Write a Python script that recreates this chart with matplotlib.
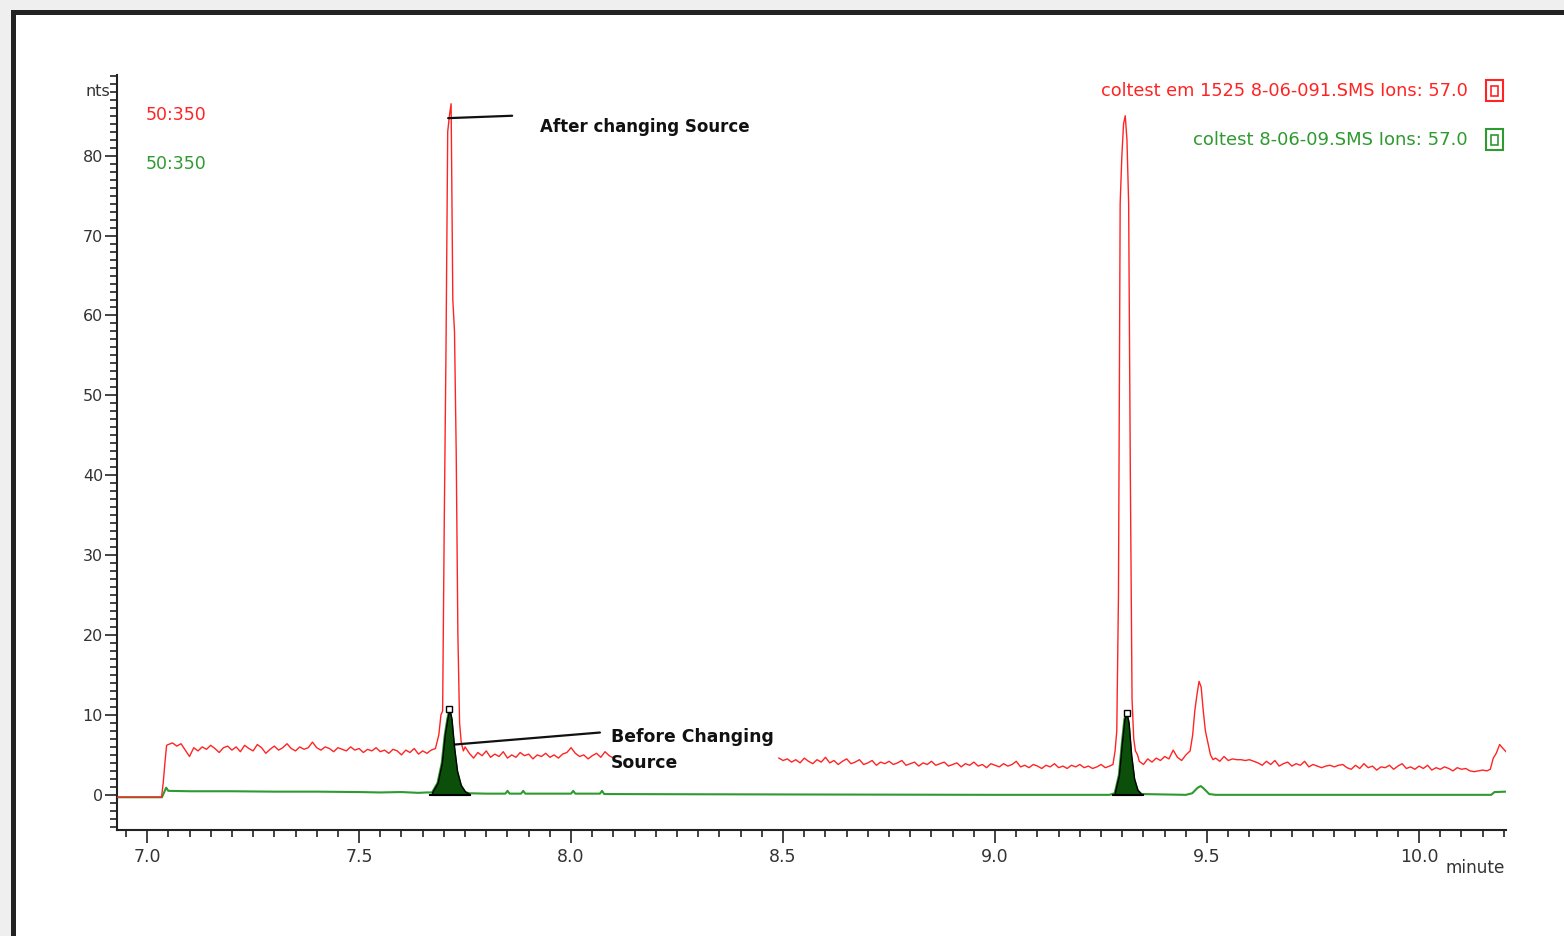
import numpy as np
import matplotlib
matplotlib.use("Agg")
import matplotlib.pyplot as plt
from matplotlib.patches import Rectangle
from matplotlib.ticker import MultipleLocator, FormatStrFormatter

# ---------------- data ----------------
# red trace: "coltest em 1525 8-06-091.SMS" (after changing source)
red_start_t = [6.929, 7.034, 7.038, 7.042, 7.046]
red_start_v = [-0.3, -0.3, 1.5, 4.0, 6.2]

red_segA_t0, red_step = 7.05, 0.01
red_segA_v = [6.3, 6.5, 6.1, 6.4, 5.6, 4.8, 5.9, 5.5, 6.0, 5.7, 6.2, 5.8, 5.3, 5.9, 6.1, 5.6,
              6.0, 5.4, 6.2, 5.8, 5.5, 6.3, 5.9, 5.2, 5.7, 6.1, 5.6, 5.9, 6.4, 5.8, 5.5, 6.0,
              5.7, 5.9, 6.6, 5.9, 5.6, 6.0, 5.8, 5.4, 5.9, 5.7, 5.5, 6.0, 5.6, 5.8, 5.3, 5.7,
              5.5, 5.9, 5.4, 5.6, 5.2, 5.7, 5.5, 5.0, 5.6, 5.3, 5.8, 5.1, 5.5, 5.2, 5.6]

red_peak1_t = [7.680, 7.688, 7.693, 7.697, 7.701, 7.705, 7.709, 7.713, 7.717, 7.721, 7.725,
               7.729, 7.733, 7.737, 7.741, 7.746, 7.750]
red_peak1_v = [5.8, 7.5, 10.0, 10.5, 35.0, 56.0, 83.0, 85.0, 86.5, 62.0, 58.0,
               43.0, 20.0, 9.0, 6.5, 5.5, 6.0]

red_segB_t0 = 7.76
red_segB_v = [5.2, 4.6, 5.3, 4.9, 5.5, 4.7, 5.1, 4.8, 5.4, 4.6, 5.0, 4.7, 5.3, 4.9, 5.1, 4.5,
              5.0, 4.8, 5.2, 4.7, 5.0, 4.6, 5.1, 5.3, 5.9, 5.2, 4.8, 5.0, 4.5, 4.9, 5.2, 4.7,
              5.4, 4.9, 4.6]

red_segC_t0 = 8.49
red_segC_v = [4.6, 4.3, 4.5, 4.1, 4.4, 4.0, 4.6, 4.2, 3.9, 4.4, 4.1, 4.7, 4.0, 4.3, 3.8, 4.2,
              4.5, 3.9, 4.1, 4.4, 3.8, 4.0, 4.3, 3.7, 4.1, 3.9, 4.2, 3.8, 4.0, 4.3, 3.7, 3.9,
              4.1, 3.6, 4.0, 3.8, 4.2, 3.7, 3.9, 4.1, 3.6, 3.8, 4.0, 3.5, 3.9, 3.7, 4.1, 3.6,
              3.8, 3.4, 3.9, 3.7, 3.5, 3.9, 3.6, 3.8, 4.2, 3.5, 3.7, 3.4, 3.8, 3.6, 3.3, 3.7,
              3.5, 3.9, 3.4, 3.6, 3.3, 3.7, 3.5, 3.8, 3.4, 3.6, 3.3, 3.5, 3.8, 3.4, 3.6]

red_peak2_t = [9.278, 9.283, 9.287, 9.291, 9.295, 9.299, 9.303, 9.307, 9.311, 9.315, 9.319,
               9.323, 9.327, 9.331, 9.336]
red_peak2_v = [3.8, 5.5, 8.0, 25.0, 74.0, 80.0, 84.0, 85.0, 82.0, 74.0, 40.0,
               12.0, 7.0, 5.5, 5.0]

red_segD_t0 = 9.34
red_segD_v = [4.2, 3.8, 4.5, 4.1, 4.6, 4.3, 4.8, 4.5, 5.6, 4.7, 4.3, 5.0, 5.5]

red_peak3_t = [9.466, 9.471, 9.476, 9.481, 9.486, 9.491, 9.496, 9.502, 9.508, 9.514]
red_peak3_v = [7.5, 10.5, 12.5, 14.2, 13.5, 10.5, 8.0, 6.5, 5.0, 4.4]

red_segE_t0 = 9.52
red_segE_v = [4.6, 4.2, 4.8, 4.3, 4.5, 4.4, 4.4, 4.3, 4.4, 4.2, 4.0, 3.7, 4.2, 3.8, 4.3, 3.6,
              3.9, 4.1, 3.6, 3.9, 3.7, 4.2, 3.5, 3.8, 3.6, 3.4, 3.6, 3.7, 3.5, 3.7, 3.8, 3.4,
              3.2, 3.7, 3.3, 3.9, 3.4, 3.6, 3.1, 3.5, 3.4, 3.7, 3.2, 3.6, 3.9, 3.3, 3.5, 3.2,
              3.6, 3.3, 3.7, 3.1, 3.4, 3.2, 3.5, 3.3, 3.0, 3.4, 3.2, 3.3, 3.0, 2.9, 3.0, 3.1,
              3.0]

red_end_t = [10.168, 10.175, 10.182, 10.190, 10.198, 10.205]
red_end_v = [3.2, 4.6, 5.2, 6.3, 5.8, 5.4]

# green trace: "coltest 8-06-09.SMS" (before changing source)
green_t = [6.929, 7.035, 7.040, 7.045, 7.050, 7.10, 7.20, 7.30, 7.40, 7.50, 7.55, 7.60, 7.64,
           7.66, 7.672, 7.685, 7.695, 7.702, 7.708, 7.713, 7.718, 7.724, 7.731, 7.740, 7.750,
           7.758, 7.80, 7.845, 7.850, 7.855, 7.882, 7.887, 7.892, 8.000, 8.005, 8.010, 8.068,
           8.073, 8.078, 8.50, 9.00, 9.27, 9.282, 9.292, 9.299, 9.305, 9.310, 9.315, 9.321,
           9.328, 9.336, 9.345, 9.45, 9.465, 9.478, 9.485, 9.492, 9.505, 9.52, 10.17, 10.178,
           10.205]
green_v = [-0.3, -0.3, 0.3, 0.9, 0.5, 0.45, 0.45, 0.4, 0.4, 0.35, 0.3, 0.35, 0.25,
           0.3, 0.3, 1.5, 4.0, 7.5, 9.5, 10.8, 9.5, 6.0, 3.0, 1.2, 0.4,
           0.2, 0.15, 0.15, 0.5, 0.15, 0.15, 0.5, 0.15, 0.15, 0.5, 0.15, 0.15,
           0.5, 0.1, 0.05, 0.0, 0.0, 0.2, 2.5, 6.5, 9.5, 10.3, 9.0, 5.0,
           2.0, 0.6, 0.1, 0.0, 0.2, 0.9, 1.1, 0.8, 0.1, 0.0, 0.0, 0.35,
           0.4]

# integrated (filled) peaks of the green trace: start / end times
green_fill_ranges = [(7.672, 7.758), (9.282, 9.345)]
green_peak_apex_t = [7.713, 9.310]
green_peak_apex_v = [10.8, 10.3]

x_major_ticks = [7.0, 7.5, 8.0, 8.5, 9.0, 9.5, 10.0]
y_major_ticks = [0, 10, 20, 30, 40, 50, 60, 70, 80]

red_label = "coltest em 1525 8-06-091.SMS Ions: 57.0"
green_label = "coltest 8-06-09.SMS Ions: 57.0"
mass_range = "50:350"

RED = "#ff2424"
GREEN = "#2f9a2f"
FILL = "#0b4f0b"

# ---------------- figure ----------------
W, H = 1564, 936
fig = plt.figure(figsize=(W / 100, H / 100), dpi=100, facecolor="#efefef")

def fx(px):
    return px / W

def fy(py):
    return 1 - py / H

frame = Rectangle((fx(12.5), -0.05), 1.1, fy(12.5) + 0.05, transform=fig.transFigure,
                  facecolor="white", edgecolor="#222222", lw=3.6, zorder=-10)
fig.patches.append(frame)

ax = fig.add_axes([fx(117), fy(830), fx(1506) - fx(117), fy(75) - fy(830)])
ax.set_facecolor("none")
ax.set_zorder(2)


def seg(t0, step, vals):
    return [round(t0 + step * i, 4) for i in range(len(vals))], list(vals)


parts_t, parts_v = [], []
for t, v in [(red_start_t, red_start_v),
             seg(red_segA_t0, red_step, red_segA_v),
             (red_peak1_t, red_peak1_v),
             seg(red_segB_t0, red_step, red_segB_v)]:
    parts_t += list(t)
    parts_v += list(v)
parts_t.append(np.nan)
parts_v.append(np.nan)
for t, v in [seg(red_segC_t0, red_step, red_segC_v),
             (red_peak2_t, red_peak2_v),
             seg(red_segD_t0, red_step, red_segD_v),
             (red_peak3_t, red_peak3_v),
             seg(red_segE_t0, red_step, red_segE_v),
             (red_end_t, red_end_v)]:
    parts_t += list(t)
    parts_v += list(v)

red_t = np.array(parts_t, dtype=float)
red_v = np.array(parts_v, dtype=float)

gt = np.array(green_t)
gv = np.array(green_v)

ax.plot(gt, gv, color=GREEN, lw=1.5, zorder=2)
ax.plot(red_t, red_v, color=RED, lw=1.0, zorder=3)

for (a, b) in green_fill_ranges:
    m = (gt >= a) & (gt <= b)
    ax.fill_between(gt[m], 0, gv[m], facecolor=FILL, edgecolor="black", lw=1.0, zorder=4)
    ax.plot([gt[m][0] - 0.004, gt[m][-1] + 0.004], [0, 0], color="black", lw=1.5, zorder=4)

ax.plot(green_peak_apex_t, green_peak_apex_v, ls="none", marker="s", ms=4.5,
        mfc="white", mec="black", mew=1.0, zorder=5)

# ---------------- axes styling ----------------
ax.set_xlim(6.929, 10.205)
ax.set_ylim(-4.4, 90.1)
for s in ["top", "right"]:
    ax.spines[s].set_visible(False)
for s in ["left", "bottom"]:
    ax.spines[s].set_linewidth(1.5)
    ax.spines[s].set_color("#222222")

ax.set_xticks(x_major_ticks)
ax.xaxis.set_major_formatter(FormatStrFormatter("%.1f"))
ax.xaxis.set_minor_locator(MultipleLocator(0.05))
ax.set_yticks(y_major_ticks)
ax.yaxis.set_minor_locator(MultipleLocator(1))

ax.tick_params(axis="both", which="major", direction="out", length=9, width=1.2,
               colors="#222222", labelcolor="#333333")
ax.tick_params(axis="both", which="minor", direction="out", length=5, width=1.2,
               colors="#222222")
ax.tick_params(axis="x", which="major", pad=4, labelsize=12.5)
ax.tick_params(axis="y", which="major", pad=1, labelsize=11.5)

fig.text(fx(110), fy(92), "nts", ha="right", va="center", fontsize=11.5, color="#333333")
fig.text(fx(1505), fy(868), "minute", ha="right", va="center", fontsize=12.2, color="#333333")

fig.text(fx(146), fy(115), mass_range, ha="left", va="center", fontsize=12.5, color=RED)
fig.text(fx(146), fy(164), mass_range, ha="left", va="center", fontsize=12.5, color=GREEN)

fig.text(fx(1468), fy(91), red_label, ha="right", va="center", fontsize=12.8, color=RED)
fig.text(fx(1468), fy(140), green_label, ha="right", va="center", fontsize=13.0, color=GREEN)

for py, col in [(91, RED), (140, GREEN)]:
    fig.patches.append(Rectangle((fx(1486), fy(py + 10)), fx(17), (21) / H,
                                 transform=fig.transFigure, fill=False, edgecolor=col, lw=1.5))
    fig.patches.append(Rectangle((fx(1491), fy(py + 5)), fx(7), (10) / H,
                                 transform=fig.transFigure, fill=False, edgecolor=col, lw=1.2))

# annotations
ax.annotate("", xy=(7.710, 84.7), xytext=(7.861, 85.0),
            arrowprops=dict(arrowstyle="-", color="#111111", lw=1.6, shrinkA=0, shrinkB=0))
ax.text(7.927, 83.6, "After changing Source", ha="left", va="center", fontsize=12.0,
        fontweight="bold", color="#111111")

ax.annotate("", xy=(7.726, 6.3), xytext=(8.068, 7.8),
            arrowprops=dict(arrowstyle="-", color="#111111", lw=1.6, shrinkA=0, shrinkB=0))
ax.text(8.094, 5.6, "Before Changing\nSource", ha="left", va="center", fontsize=12.4,
        fontweight="bold", color="#111111", linespacing=1.6)

fig.savefig("out.png", dpi=100, facecolor=fig.get_facecolor())
